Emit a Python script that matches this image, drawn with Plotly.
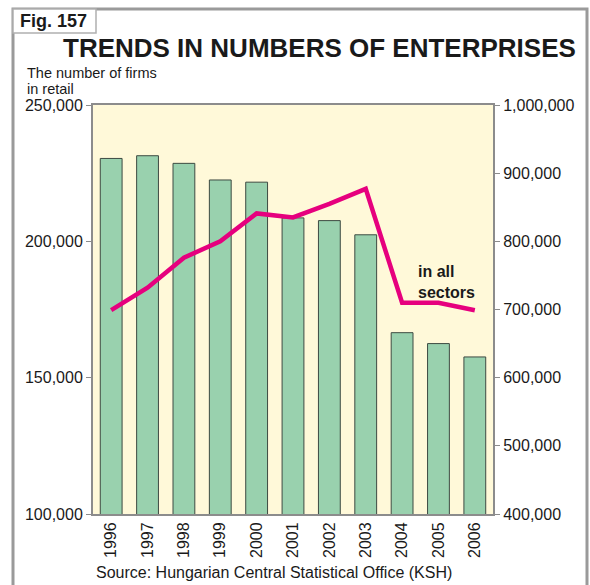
import plotly.graph_objects as go

years = ["1996", "1997", "1998", "1999", "2000", "2001", "2002", "2003", "2004", "2005", "2006"]
retail_firms = [230400, 231400, 228600, 222500, 221700, 208600, 207600, 202400, 166500, 162500, 157600]
all_sectors = [699000, 732000, 776000, 800000, 841000, 835000, 855000, 877000, 710000, 710000, 699000]
left_ticks = [100000, 150000, 200000, 250000]
right_ticks = [400000, 500000, 600000, 700000, 800000, 900000, 1000000]

W, H = 590, 585
L, R, T, B = 93, 97, 105, 71
PW, PH = W - L - R, H - T - B

def px(x):
    return (x - L) / PW

def py(y):
    return (H - B - y) / PH

FONT = "Liberation Sans, Arial, sans-serif"
GRAY = "#8c8c8c"

fig = go.Figure()
fig.add_trace(go.Bar(
    x=years, y=retail_firms, yaxis="y",
    marker=dict(color="#99d1ae", line=dict(color="#3d4a42", width=1)),
    showlegend=False,
))
fig.add_trace(go.Scatter(
    x=years, y=all_sectors, yaxis="y2", mode="lines",
    line=dict(color="#e6007e", width=4.5),
    showlegend=False,
))

fig.update_layout(
    width=W, height=H,
    margin=dict(l=L, r=R, t=T, b=B),
    paper_bgcolor="white",
    plot_bgcolor="#fff9d9",
    bargap=0.4,
    font=dict(family=FONT, size=16, color="#1a1a1a"),
    xaxis=dict(
        tickangle=-90, tickfont=dict(size=16), ticks="", showline=True,
        linecolor=GRAY, linewidth=2, mirror=True, showgrid=False,
    ),
    yaxis=dict(
        range=[100000, 250000], tickvals=left_ticks, tickformat=",d",
        ticks="outside", ticklen=5, tickcolor=GRAY, tickwidth=1,
        showline=True, linecolor=GRAY, linewidth=2, showgrid=False,
        tickfont=dict(size=16), zeroline=False,
    ),
    yaxis2=dict(
        range=[400000, 1000000], tickvals=right_ticks, tickformat=",d",
        overlaying="y", side="right",
        ticks="outside", ticklen=5, tickcolor=GRAY, tickwidth=1,
        showline=True, linecolor=GRAY, linewidth=2, showgrid=False,
        tickfont=dict(size=16), zeroline=False,
    ),
)

# outer frame
fig.add_shape(type="rect", xref="paper", yref="paper",
              x0=px(13), x1=px(587), y0=py(600), y1=py(9),
              line=dict(color="#9a9a9a", width=3), layer="below")
# Fig. box
fig.add_shape(type="rect", xref="paper", yref="paper",
              x0=px(13), x1=px(96), y0=py(33), y1=py(9),
              line=dict(color="#b0b0b0", width=1.5), fillcolor="white")
fig.add_annotation(xref="paper", yref="paper", x=px(19), y=py(21),
                   text="<b>Fig. 157</b>", showarrow=False, xanchor="left",
                   yanchor="middle", borderpad=0, font=dict(size=18, color="#1a1a1a"))
fig.add_annotation(xref="paper", yref="paper", x=px(319), y=py(48),
                   text="<b>TRENDS IN NUMBERS OF ENTERPRISES</b>", showarrow=False,
                   xanchor="center", yanchor="middle", borderpad=0,
                   font=dict(size=26, color="#1a1a1a"))
fig.add_annotation(xref="paper", yref="paper", x=px(26), y=py(73),
                   text="The number of firms", showarrow=False,
                   xanchor="left", yanchor="middle", borderpad=0,
                   font=dict(size=14.5, color="#1a1a1a"))
fig.add_annotation(xref="paper", yref="paper", x=px(26), y=py(89),
                   text="in retail", showarrow=False,
                   xanchor="left", yanchor="middle", borderpad=0,
                   font=dict(size=14.5, color="#1a1a1a"))
fig.add_annotation(xref="paper", yref="paper", x=px(416), y=py(282),
                   text="<b>in all<br>sectors</b>", showarrow=False,
                   xanchor="left", yanchor="middle", align="left",
                   font=dict(size=16, color="#1a1a1a"))
fig.add_annotation(xref="paper", yref="paper", x=px(94), y=py(572),
                   text="Source: Hungarian Central Statistical Office (KSH)", showarrow=False,
                   xanchor="left", yanchor="middle",
                   font=dict(size=16, color="#1a1a1a"))

fig.write_html("out.html")
